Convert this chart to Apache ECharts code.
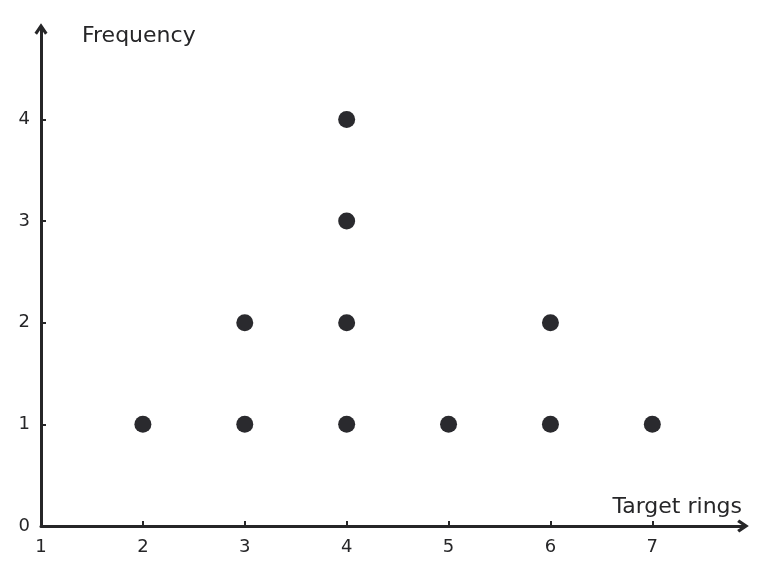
<!DOCTYPE html>
<html>
<head>
<meta charset="utf-8">
<script src="https://cdn.jsdelivr.net/npm/echarts@6/dist/echarts.min.js"></script>
<style>
  html, body { margin: 0; padding: 0; background: #fff; }
  #chart-container { width: 771px; height: 575px; }
</style>
</head>
<body>
<div id="chart-container"></div>
<script>
    // target rings hit and how often
    const rings = [2, 3, 4, 5, 6, 7];
    const counts = [1, 2, 4, 1, 2, 1];
    const xTicks = [1, 2, 3, 4, 5, 6, 7];
    const yTicks = [0, 1, 2, 3, 4];

    // one dot per occurrence, stacked up
    let dots = [];
    rings.forEach((r, i) => {
        for (let k = 1; k <= counts[i]; k++) {
            dots.push([r, k]);
        }
    });

    var dom = document.getElementById('chart-container');
    var myChart = echarts.init(dom, null, { renderer: 'canvas' });

    const ink = '#262628';
    const font = 'DejaVu Sans';
    // open chevron for the axis ends
    const chevron = 'path://M5,0 L10,7.4 L8.1,9 L5,4.3 L1.9,9 L0,7.4 Z';

    var option = {
        animation: false,
        grid: { left: 41, right: 28, top: 29, bottom: 49, containLabel: false },
        xAxis: {
            type: 'value',
            min: 1,
            max: 7.89,
            interval: 1,
            name: 'Target rings',
            nameLocation: 'end',
            nameGap: -1,
            nameTextStyle: {
                fontFamily: font, fontSize: 22, color: ink,
                align: 'right', verticalAlign: 'bottom', padding: [0, 0, 8, 0]
            },
            splitLine: { show: false },
            axisLine: {
                lineStyle: { color: ink, width: 3 },
                symbol: ['none', chevron],
                symbolSize: [13, 12]
            },
            axisTick: { inside: true, length: 5, lineStyle: { color: ink, width: 2 } },
            axisLabel: {
                fontFamily: font, fontSize: 18, color: ink, margin: 12,
                showMaxLabel: false,
                formatter: v => xTicks.includes(v) ? String(v) : ''
            }
        },
        yAxis: {
            type: 'value',
            min: 0,
            max: 4.89,
            interval: 1,
            name: 'Frequency',
            nameLocation: 'end',
            nameGap: -7,
            nameTextStyle: {
                fontFamily: font, fontSize: 22, color: ink,
                align: 'left', verticalAlign: 'middle', padding: [0, 0, 0, 41]
            },
            splitLine: { show: false },
            axisLine: {
                show: true,
                lineStyle: { color: ink, width: 3 },
                symbol: ['none', chevron],
                symbolSize: [13, 12]
            },
            axisTick: { show: true, inside: true, length: 5, lineStyle: { color: ink, width: 2 } },
            axisLabel: {
                fontFamily: font, fontSize: 18, color: ink, margin: 11,
                showMaxLabel: false,
                formatter: v => yTicks.includes(v) ? String(v) : ''
            }
        },
        series: [
            {
                type: 'scatter',
                data: dots,
                symbolSize: 17,
                itemStyle: { color: '#2a2a2e', opacity: 1 }
            }
        ]
    };

    myChart.setOption(option);
    window.addEventListener('resize', myChart.resize);
</script>
</body>
</html>
